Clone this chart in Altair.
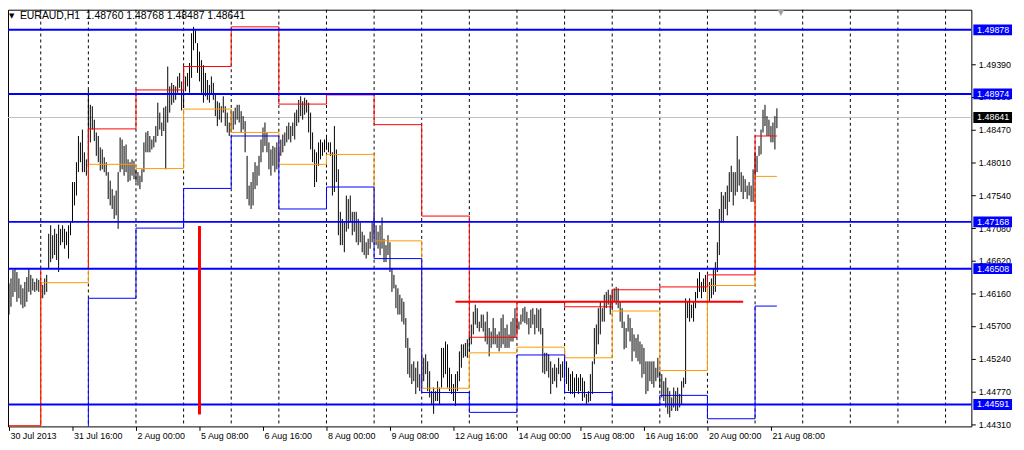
import altair as alt
import pandas as pd

FONT = "Liberation Sans"

symbol = "EURAUD,H1"
header_ohlc = [1.48760, 1.48768, 1.48487, 1.48641]

# H1 bars (bar 0 = 30 Jul 2013 08:00)
highs = [
    # 30 Jul
    1.4630, 1.4637, 1.4649, 1.4651, 1.4646, 1.4637, 1.4628, 1.4623, 1.4632, 1.4639, 1.4651, 1.4642, 1.4637, 1.4632, 1.4637, 1.4635,
    # 31 Jul
    1.4632, 1.4628, 1.4637, 1.4642, 1.4700, 1.4712, 1.4698, 1.4707, 1.4700, 1.4713, 1.4707, 1.4712, 1.4707, 1.4703, 1.4712, 1.4716, 1.4773, 1.4773, 1.4801, 1.4838, 1.4829, 1.4847, 1.4815, 1.4805,
    # 1 Aug
    1.4903, 1.4882, 1.4880, 1.4861, 1.4843, 1.4838, 1.4822, 1.4819, 1.4808, 1.4801, 1.4787, 1.4775, 1.4763, 1.4754, 1.4761, 1.4787, 1.4836, 1.4833, 1.4824, 1.4826, 1.4805, 1.4801, 1.4805, 1.4803,
    # 2 Aug
    1.4791, 1.4787, 1.4782, 1.4791, 1.4829, 1.4843, 1.4845, 1.4838, 1.4833, 1.4838, 1.4852, 1.4885, 1.4871, 1.4857, 1.4878, 1.4880, 1.4936, 1.4908, 1.4913, 1.4910, 1.4908, 1.4922, 1.4927, 1.4915,
    # 5 Aug
    1.4936, 1.4922, 1.4927, 1.4941, 1.4983, 1.4992, 1.4987, 1.4969, 1.4957, 1.4945, 1.4938, 1.4927, 1.4917, 1.4910, 1.4922, 1.4913, 1.4896, 1.4887, 1.4885, 1.4880, 1.4894, 1.4880, 1.4871, 1.4857,
    # 6 Aug
    1.4875, 1.4873, 1.4878, 1.4882, 1.4882, 1.4873, 1.4866, 1.4859, 1.4810, 1.4768, 1.4773, 1.4787, 1.4801, 1.4796, 1.4810, 1.4833, 1.4850, 1.4857, 1.4843, 1.4829, 1.4819, 1.4824, 1.4822, 1.4829,
    # 7 Aug
    1.4819, 1.4833, 1.4840, 1.4843, 1.4852, 1.4857, 1.4852, 1.4857, 1.4871, 1.4875, 1.4889, 1.4894, 1.4887, 1.4892, 1.4889, 1.4885, 1.4871, 1.4843, 1.4819, 1.4815, 1.4829, 1.4833, 1.4829, 1.4833,
    # 8 Aug
    1.4836, 1.4829, 1.4829, 1.4815, 1.4852, 1.4819, 1.4791, 1.4731, 1.4721, 1.4716, 1.4754, 1.4749, 1.4754, 1.4731, 1.4731, 1.4731, 1.4721, 1.4716, 1.4703, 1.4698, 1.4688, 1.4693, 1.4703, 1.4716,
    # 9 Aug
    1.4726, 1.4712, 1.4703, 1.4712, 1.4723, 1.4693, 1.4684, 1.4698, 1.4688, 1.4651, 1.4642, 1.4628, 1.4623, 1.4614, 1.4609, 1.4604, 1.4581, 1.4553, 1.4539, 1.4516, 1.4520, 1.4511, 1.4520, 1.4502,
    # 12 Aug
    1.4530, 1.4525, 1.4530, 1.4520, 1.4506, 1.4478, 1.4483, 1.4478, 1.4492, 1.4483, 1.4539, 1.4539, 1.4548, 1.4544, 1.4511, 1.4502, 1.4488, 1.4502, 1.4506, 1.4534, 1.4544, 1.4544, 1.4546, 1.4551,
    # 13 Aug
    1.4558, 1.4572, 1.4590, 1.4600, 1.4595, 1.4576, 1.4586, 1.4586, 1.4576, 1.4590, 1.4567, 1.4562, 1.4581, 1.4567, 1.4558, 1.4562, 1.4581, 1.4586, 1.4567, 1.4572, 1.4558, 1.4576, 1.4581, 1.4595,
    # 14 Aug
    1.4581, 1.4576, 1.4586, 1.4595, 1.4597, 1.4590, 1.4581, 1.4593, 1.4595, 1.4586, 1.4595, 1.4593, 1.4595, 1.4567, 1.4532, 1.4532, 1.4530, 1.4520, 1.4511, 1.4516, 1.4511, 1.4525, 1.4516, 1.4520,
    # 15 Aug
    1.4534, 1.4520, 1.4511, 1.4502, 1.4506, 1.4497, 1.4502, 1.4497, 1.4502, 1.4497, 1.4492, 1.4474, 1.4478, 1.4502, 1.4520, 1.4567, 1.4572, 1.4595, 1.4604, 1.4595, 1.4614, 1.4618, 1.4621, 1.4614,
    # 16 Aug
    1.4618, 1.4623, 1.4625, 1.4623, 1.4604, 1.4595, 1.4576, 1.4567, 1.4586, 1.4581, 1.4567, 1.4558, 1.4553, 1.4558, 1.4548, 1.4544, 1.4539, 1.4520, 1.4520, 1.4520, 1.4520, 1.4520, 1.4511, 1.4525,
    # 19 Aug
    1.4506, 1.4502, 1.4492, 1.4497, 1.4483, 1.4478, 1.4469, 1.4483, 1.4478, 1.4483, 1.4474, 1.4492, 1.4497, 1.4609, 1.4604, 1.4609, 1.4600, 1.4604, 1.4618, 1.4637, 1.4646, 1.4632, 1.4637, 1.4642,
    # 20 Aug
    1.4642, 1.4632, 1.4637, 1.4651, 1.4660, 1.4688, 1.4735, 1.4759, 1.4754, 1.4759, 1.4768, 1.4787, 1.4796, 1.4787, 1.4787, 1.4838, 1.4805, 1.4787, 1.4782, 1.4777, 1.4768, 1.4773, 1.4768, 1.4791,
    # 21 Aug
    1.4815, 1.4810, 1.4824, 1.4847, 1.4875, 1.4882, 1.4866, 1.4861, 1.4852, 1.4857, 1.4866, 1.4877,
]

lows = [
    # 30 Jul
    1.4586, 1.4597, 1.4611, 1.4618, 1.4604, 1.4609, 1.4600, 1.4595, 1.4597, 1.4604, 1.4618, 1.4614, 1.4620, 1.4618, 1.4620, 1.4618,
    # 31 Jul
    1.4609, 1.4609, 1.4614, 1.4618, 1.4651, 1.4660, 1.4665, 1.4670, 1.4663, 1.4646, 1.4684, 1.4688, 1.4679, 1.4684, 1.4665, 1.4698, 1.4716, 1.4740, 1.4754, 1.4787, 1.4801, 1.4787, 1.4787, 1.4782,
    # 1 Aug
    1.4796, 1.4829, 1.4847, 1.4831, 1.4810, 1.4801, 1.4789, 1.4791, 1.4787, 1.4782, 1.4749, 1.4740, 1.4735, 1.4721, 1.4726, 1.4707, 1.4787, 1.4791, 1.4782, 1.4787, 1.4773, 1.4775, 1.4782, 1.4777,
    # 2 Aug
    1.4773, 1.4768, 1.4763, 1.4773, 1.4787, 1.4815, 1.4815, 1.4815, 1.4819, 1.4822, 1.4829, 1.4838, 1.4847, 1.4838, 1.4845, 1.4791, 1.4857, 1.4871, 1.4882, 1.4885, 1.4889, 1.4899, 1.4906, 1.4874,
    # 5 Aug
    1.4878, 1.4901, 1.4908, 1.4899, 1.4920, 1.4959, 1.4969, 1.4927, 1.4915, 1.4899, 1.4885, 1.4894, 1.4889, 1.4885, 1.4896, 1.4889, 1.4866, 1.4852, 1.4861, 1.4857, 1.4871, 1.4852, 1.4843, 1.4838,
    # 6 Aug
    1.4843, 1.4847, 1.4854, 1.4861, 1.4857, 1.4843, 1.4847, 1.4815, 1.4749, 1.4740, 1.4735, 1.4740, 1.4763, 1.4768, 1.4782, 1.4801, 1.4815, 1.4824, 1.4815, 1.4791, 1.4782, 1.4796, 1.4787, 1.4791,
    # 7 Aug
    1.4801, 1.4810, 1.4815, 1.4824, 1.4829, 1.4833, 1.4829, 1.4838, 1.4833, 1.4852, 1.4857, 1.4866, 1.4861, 1.4868, 1.4871, 1.4843, 1.4819, 1.4801, 1.4766, 1.4773, 1.4796, 1.4805, 1.4810, 1.4815,
    # 8 Aug
    1.4819, 1.4815, 1.4810, 1.4754, 1.4759, 1.4773, 1.4698, 1.4684, 1.4684, 1.4674, 1.4703, 1.4707, 1.4716, 1.4698, 1.4703, 1.4688, 1.4684, 1.4688, 1.4674, 1.4670, 1.4665, 1.4670, 1.4679, 1.4688,
    # 9 Aug
    1.4698, 1.4684, 1.4679, 1.4670, 1.4679, 1.4660, 1.4660, 1.4670, 1.4646, 1.4618, 1.4623, 1.4595, 1.4586, 1.4586, 1.4576, 1.4572, 1.4539, 1.4502, 1.4497, 1.4488, 1.4492, 1.4474, 1.4483, 1.4478,
    # 12 Aug
    1.4488, 1.4492, 1.4502, 1.4478, 1.4469, 1.4460, 1.4446, 1.4464, 1.4464, 1.4460, 1.4483, 1.4497, 1.4502, 1.4483, 1.4478, 1.4474, 1.4464, 1.4457, 1.4478, 1.4492, 1.4511, 1.4525, 1.4527, 1.4525,
    # 13 Aug
    1.4534, 1.4544, 1.4558, 1.4572, 1.4567, 1.4562, 1.4567, 1.4562, 1.4548, 1.4544, 1.4527, 1.4539, 1.4544, 1.4544, 1.4539, 1.4534, 1.4539, 1.4544, 1.4539, 1.4539, 1.4539, 1.4548, 1.4548, 1.4553,
    # 14 Aug
    1.4562, 1.4565, 1.4572, 1.4576, 1.4574, 1.4572, 1.4558, 1.4567, 1.4572, 1.4558, 1.4567, 1.4562, 1.4558, 1.4504, 1.4502, 1.4506, 1.4497, 1.4474, 1.4488, 1.4492, 1.4483, 1.4502, 1.4492, 1.4497,
    # 15 Aug
    1.4497, 1.4488, 1.4478, 1.4474, 1.4474, 1.4469, 1.4478, 1.4474, 1.4478, 1.4464, 1.4469, 1.4460, 1.4462, 1.4464, 1.4474, 1.4516, 1.4530, 1.4544, 1.4558, 1.4576, 1.4576, 1.4595, 1.4600, 1.4586,
    # 16 Aug
    1.4595, 1.4604, 1.4600, 1.4595, 1.4576, 1.4567, 1.4537, 1.4539, 1.4562, 1.4548, 1.4520, 1.4534, 1.4525, 1.4520, 1.4516, 1.4497, 1.4502, 1.4474, 1.4478, 1.4492, 1.4488, 1.4483, 1.4492, 1.4497,
    # 19 Aug
    1.4483, 1.4469, 1.4464, 1.4455, 1.4446, 1.4441, 1.4450, 1.4455, 1.4450, 1.4450, 1.4455, 1.4460, 1.4483, 1.4488, 1.4581, 1.4576, 1.4581, 1.4576, 1.4595, 1.4609, 1.4618, 1.4609, 1.4618, 1.4618,
    # 20 Aug
    1.4600, 1.4604, 1.4609, 1.4614, 1.4618, 1.4646, 1.4670, 1.4716, 1.4716, 1.4735, 1.4726, 1.4745, 1.4759, 1.4740, 1.4754, 1.4759, 1.4768, 1.4759, 1.4749, 1.4759, 1.4749, 1.4754, 1.4745, 1.4745,
    # 21 Aug
    1.4782, 1.4787, 1.4810, 1.4812, 1.4843, 1.4852, 1.4838, 1.4838, 1.4829, 1.4829, 1.4819, 1.4849,
]

# daily levels (previous-day high / close / low), one value per trading day
day_start = [0, 16, 40, 64, 88, 112, 136, 160, 184, 208, 232, 256, 280, 304, 328, 352, 376]
prev_high = [1.4429, 1.4651, 1.4848, 1.4903, 1.4936, 1.4992, 1.4883, 1.4896, 1.4854, 1.4725, 1.4554, 1.4603, 1.4597, 1.4621, 1.4625, 1.4642, 1.4838]
prev_close = [1.4429, 1.4631, 1.4798, 1.4792, 1.4876, 1.4843, 1.4798, 1.4812, 1.4690, 1.4482, 1.4532, 1.4540, 1.4525, 1.4591, 1.4507, 1.4627, 1.4781]
prev_low = [1.4400, 1.4400, 1.4609, 1.4708, 1.4764, 1.4838, 1.4735, 1.4766, 1.4665, 1.4476, 1.4448, 1.4529, 1.4476, 1.4458, 1.4472, 1.4439, 1.4598]

# day separators (dashed) and time-axis labels
grid_bars = [16, 40, 64, 88, 112, 136, 160, 184, 208, 232, 256, 280, 304, 328, 352, 376, 400, 424, 448, 472]
tick_bars = [0, 32, 64, 96, 128, 160, 192, 224, 256, 288, 320, 352, 384]
tick_labels = ["30 Jul 2013", "31 Jul 16:00", "2 Aug 00:00", "5 Aug 08:00", "6 Aug 16:00",
               "8 Aug 00:00", "9 Aug 08:00", "12 Aug 16:00", "14 Aug 00:00", "15 Aug 08:00",
               "16 Aug 16:00", "20 Aug 00:00", "21 Aug 08:00"]
price_ticks = [1.49390, 1.48930, 1.48470, 1.48010, 1.47540, 1.47080, 1.46620,
               1.46160, 1.45700, 1.45240, 1.44770, 1.44310]

# horizontal support/resistance levels and objects
levels = [1.49878, 1.48974, 1.47168, 1.46508, 1.44591]
bid = 1.48641
trend_start, trend_end, trend_price = [225], [370], [1.4604]
vline_bar, vline_top, vline_bottom = [96], [1.4711], [1.4445]
shift_bar = [389]

n = len(highs)
bars_df = pd.DataFrame({"bar": list(range(n)), "high": highs, "low": lows})

step_rows = []
for name, lv in (("close", prev_close), ("low", prev_low), ("high", prev_high)):
    for b, v in zip(day_start + [n - 1], lv + [lv[-1]]):
        step_rows.append({"bar": b, "price": v, "series": name})
steps_df = pd.DataFrame(step_rows)

W, H = 971, 420
xscale = alt.Scale(domain=[-0.5, 485], nice=False, zero=False)
yscale = alt.Scale(domain=[1.44282, 1.50162], nice=False, zero=False)

label_expr = "[" + ",".join("'" + t + "'" for t in tick_labels) + "][indexof([" + \
    ",".join(str(b) for b in tick_bars) + "], datum.value)]"

xaxis = alt.Axis(orient="bottom", values=tick_bars, labelExpr=label_expr, labelAlign="left",
                 labelBaseline="top", labelPadding=1, labelOffset=1, tickSize=4, tickColor="black",
                 domain=False, grid=False, labelFont=FONT, labelFontSize=9, labelColor="black",
                 labelFlush=False, labelOverlap=False, title=None)
yaxis = alt.Axis(orient="right", values=price_ticks, format=".5f", tickSize=4, tickColor="black",
                 labelPadding=3, domain=False, grid=False, labelFont=FONT, labelFontSize=9,
                 labelColor="black", labelOverlap=False, labelFlush=False, title=None)


def X(field):
    return alt.X(field, type="quantitative", scale=xscale, axis=xaxis)


def Y(field):
    return alt.Y(field, type="quantitative", scale=yscale, axis=yaxis)


grid = alt.Chart(pd.DataFrame({"bar": grid_bars})).mark_rule(
    color="black", strokeDash=[3, 3], strokeWidth=1).encode(x=X("bar"))

bidline = alt.Chart(pd.DataFrame({"price": [bid]})).mark_rule(
    color="#c0c0c0", strokeWidth=1).encode(y=Y("price"))

bars = alt.Chart(bars_df).mark_rule(color="black", strokeWidth=1, clip=True).encode(
    x=X("bar"), y=Y("low"), y2="high:Q",
)

steps = alt.Chart(steps_df).mark_line(interpolate="step-after", strokeWidth=1, clip=True).encode(
    x=X("bar"), y=Y("price"),
    color=alt.Color("series:N", scale=alt.Scale(domain=["close", "low", "high"],
                                                range=["#ff9900", "#0000ff", "#ff0000"]), legend=None),
    detail="series:N",
)

level_df = pd.DataFrame({"price": levels, "label": [f"{v:.5f}" for v in levels]})
level_lines = alt.Chart(level_df).mark_rule(color="#0000ff", strokeWidth=2).encode(y=Y("price"))

trend = alt.Chart(pd.DataFrame({"s": trend_start, "e": trend_end, "price": trend_price})).mark_rule(
    color="#ff0000", strokeWidth=2).encode(x=X("s"), x2="e", y=Y("price"))

vline = alt.Chart(pd.DataFrame({"bar": vline_bar, "t": vline_top, "b": vline_bottom})).mark_rule(
    color="#ff0000", strokeWidth=3).encode(x=X("bar"), y=Y("t"), y2="b")

boxes = alt.Chart(level_df).mark_rect(height=11, color="#0000ff").encode(
    x=alt.value(W + 2), x2=alt.value(W + 41), y=Y("price"))
box_text = alt.Chart(level_df).mark_text(color="white", font=FONT, fontSize=9, align="center",
                                         baseline="middle").encode(
    x=alt.value(W + 22), y=Y("price"), text="label:N")

bid_df = pd.DataFrame({"price": [bid], "label": [f"{bid:.5f}"]})
bid_box = alt.Chart(bid_df).mark_rect(height=11, color="black").encode(
    x=alt.value(W + 2), x2=alt.value(W + 41), y=Y("price"))
bid_text = alt.Chart(bid_df).mark_text(color="white", font=FONT, fontSize=9, align="center",
                                       baseline="middle").encode(
    x=alt.value(W + 22), y=Y("price"), text="label:N")

header_df = pd.DataFrame({"t": [symbol + "\u00a0\u00a0" + " ".join(f"{v:.5f}" for v in header_ohlc)]})
header = alt.Chart(header_df).mark_text(font=FONT, fontSize=10.5, align="left", baseline="middle",
                                        color="black").encode(
    x=alt.value(12), y=alt.value(6), text="t:N")
tri = alt.Chart(pd.DataFrame({"t": ["\u25bc"]})).mark_text(font="DejaVu Sans", fontSize=7, align="left",
                                                          baseline="middle", color="black").encode(
    x=alt.value(1), y=alt.value(6), text="t:N")
shift_mark = alt.Chart(pd.DataFrame({"bar": shift_bar})).mark_text(
    font="DejaVu Sans", fontSize=8, align="center", baseline="middle", color="#a0a0a0", text="\u25bc"
).encode(x=X("bar"), y=alt.value(3))

chart = alt.layer(
    grid, bidline, bars, steps, level_lines, trend, vline,
    boxes, box_text, bid_box, bid_text, header, tri, shift_mark,
).properties(
    width=W, height=H,
    autosize=alt.AutoSizeParams(type="none"),
    padding={"left": 0, "top": 0, "right": 45, "bottom": 14},
    background="white",
).configure_view(stroke="black", strokeWidth=1)

chart.save("out.html", embed_options={"renderer": "svg", "actions": False})
